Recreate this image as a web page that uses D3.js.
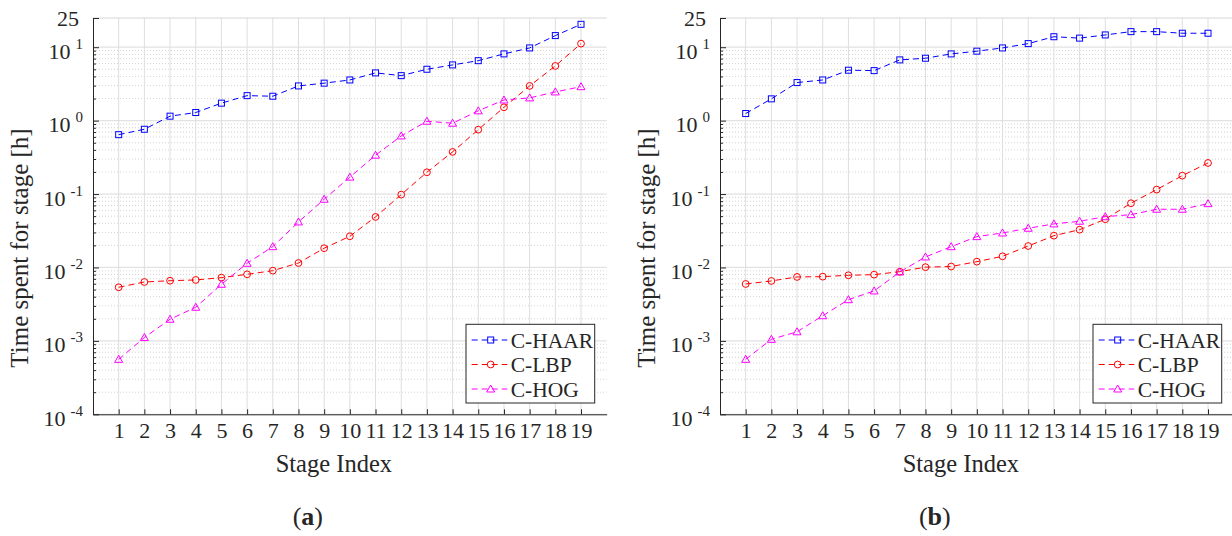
<!DOCTYPE html>
<html>
<head>
<meta charset="utf-8">
<title>Time spent for stage</title>
<script src="https://d3js.org/d3.v7.min.js"></script>
<style>
  body { margin: 0; background: #fff; }
  svg text { font-family: "Liberation Serif", Tinos, "Times New Roman", Times, serif !important; fill: #262626; }
</style>
</head>
<body>
<svg id="chart" width="1232" height="536" font-family="Liberation Serif"></svg>
<script>
// stage index on x, hours on a log y axis
const stages = [1, 2, 3, 4, 5, 6, 7, 8, 9, 10, 11, 12, 13, 14, 15, 16, 17, 18, 19];
const yTicks = [1e-4, 1e-3, 1e-2, 1e-1, 1, 10, 25];
const seriesNames = ["C-HAAR", "C-LBP", "C-HOG"];

// panel (a)
const haarA = [0.644, 0.763, 1.15, 1.29, 1.73, 2.19, 2.15, 2.97, 3.24, 3.58, 4.47, 4.10, 5.01, 5.74, 6.56, 8.11, 9.78, 14.4, 20.5];
const lbpA = [0.00537, 0.00634, 0.0066, 0.00676, 0.00727, 0.00807, 0.00904, 0.0115, 0.0183, 0.0266, 0.0488, 0.0982, 0.198, 0.375, 0.753, 1.52, 2.97, 5.56, 11.2];
const hogA = [0.000561, 0.00111, 0.00197, 0.00287, 0.0059, 0.0114, 0.0192, 0.0417, 0.085, 0.170, 0.338, 0.619, 0.981, 0.922, 1.36, 1.91, 2.04, 2.46, 2.90];

// panel (b)
const haarB = [1.25, 1.98, 3.30, 3.58, 4.86, 4.80, 6.72, 7.08, 8.11, 8.83, 9.78, 11.2, 13.9, 13.3, 14.7, 16.3, 16.3, 15.5, 15.5];
const lbpB = [0.00596, 0.00655, 0.00743, 0.0075, 0.00783, 0.00798, 0.00877, 0.0101, 0.0103, 0.012, 0.0142, 0.0196, 0.0271, 0.0327, 0.0454, 0.075, 0.115, 0.178, 0.265];
const hogB = [0.000561, 0.00105, 0.00133, 0.0022, 0.00364, 0.00479, 0.00869, 0.0139, 0.0192, 0.0263, 0.0295, 0.0342, 0.0392, 0.0426, 0.0492, 0.0524, 0.0621, 0.0621, 0.074];

const colors = ["#0000ff", "#ff0000", "#ff00ff"];
const markers = ["square", "circle", "triangle"];
const serif = "'Liberation Serif', Tinos, 'Times New Roman', Times, serif";

const svg = d3.select("#chart");

function marker(sel, type, color) {
    if (type == "square") {
        sel.append("rect").attr("x", -3).attr("y", -3).attr("width", 6).attr("height", 6);
    } else if (type == "circle") {
        sel.append("circle").attr("r", 3.4);
    } else {
        sel.append("path").attr("d", "M0,-4L4,3L-4,3Z");
    }
    sel.selectAll("rect,circle,path")
        .attr("fill", "none").attr("stroke", color).attr("stroke-width", 1);
}

function panel(left, right, allSeries, tag) {
    const top = 18, bottom = 414.3;
    const x = d3.scaleLinear().domain([0, 20]).range([left, right]);
    const y = d3.scaleLog().domain([1e-4, 25]).range([bottom, top]);
    const g = svg.append("g");

    // minor decade values for the dotted grid and small ticks
    const minor = y.ticks().filter(v => v <= 10 && Math.abs(Math.log10(v) % 1) > 1e-6);

    g.append("g").selectAll("line").data(minor).join("line")
        .attr("x1", left).attr("x2", right)
        .attr("y1", d => y(d)).attr("y2", d => y(d))
        .attr("stroke", "#c8c8c8").attr("stroke-width", 0.8)
        .attr("stroke-dasharray", "1,2");

    g.append("g").selectAll("line").data(yTicks.slice(0, 6)).join("line")
        .attr("x1", left).attr("x2", right)
        .attr("y1", d => y(d)).attr("y2", d => y(d))
        .attr("stroke", "#e2e2e2").attr("stroke-width", 1.3);

    g.append("g").selectAll("line").data(stages).join("line")
        .attr("x1", d => x(d)).attr("x2", d => x(d))
        .attr("y1", top).attr("y2", bottom)
        .attr("stroke", "#dedede").attr("stroke-width", 1);

    g.append("line").attr("x1", left).attr("x2", right)
        .attr("y1", top).attr("y2", top)
        .attr("stroke", "#d6d6d6").attr("stroke-width", 1);

    // x axis
    const xAxis = g.append("g").attr("transform", `translate(0,${bottom})`)
        .call(d3.axisBottom(x).tickValues(stages).tickSizeInner(-5).tickSizeOuter(0).tickPadding(9));
    xAxis.selectAll(".tick text").attr("font-size", 22).attr("dy", "0.68em").attr("fill", "#262626");

    // y axis, minor ticks first
    g.append("g").attr("transform", `translate(${left},0)`)
        .call(d3.axisLeft(y).tickValues(minor).tickSizeInner(-3).tickSizeOuter(0).tickFormat(""))
        .call(a => a.select(".domain").remove());
    const yAxis = g.append("g").attr("transform", `translate(${left},0)`)
        .call(d3.axisLeft(y).tickValues(yTicks).tickSizeInner(-6).tickSizeOuter(0).tickPadding(9));
    yAxis.selectAll(".tick text").each(function (d) {
        const t = d3.select(this).text("").attr("dy", null).attr("fill", "#262626");
        if (d == 25) {
            t.attr("y", 7.5).attr("font-size", 22).text("25").attr("x", -14);
        } else {
            t.attr("y", 11).attr("x", -10);
            t.append("tspan").attr("font-size", 22).text("10");
            t.append("tspan").attr("font-size", 15).attr("dx", 5).attr("dy", -10)
                .text(String(Math.round(Math.log10(d))));
        }
    });
    g.selectAll(".domain").attr("stroke", "#262626");
    g.selectAll(".tick line").attr("stroke", "#262626");

    // series
    allSeries.forEach((vals, k) => {
        g.append("path").datum(vals)
            .attr("fill", "none").attr("stroke", colors[k]).attr("stroke-width", 1)
            .attr("stroke-dasharray", "6,4")
            .attr("d", d3.line().x((d, i) => x(stages[i])).y(d => y(d)));
        g.append("g").selectAll("g").data(vals).join("g")
            .attr("transform", (d, i) => `translate(${x(stages[i])},${y(d)})`)
            .each(function () { marker(d3.select(this), markers[k], colors[k]); });
    });

    // legend
    const lx = right - 140.7, ly = 324.3;
    const leg = g.append("g").attr("transform", `translate(${lx},${ly})`);
    leg.append("rect").attr("width", 128.7).attr("height", 78.7)
        .attr("fill", "#fff").attr("stroke", "#262626").attr("stroke-width", 1);
    seriesNames.forEach((name, k) => {
        const row = leg.append("g").attr("transform", `translate(0,${15.7 + k * 24.5})`);
        row.append("line").attr("x1", 5.7).attr("x2", 41.3)
            .attr("stroke", colors[k]).attr("stroke-width", 1).attr("stroke-dasharray", "6,4");
        const m = row.append("g").attr("transform", "translate(24.7,0)");
        marker(m, markers[k], colors[k]);
        row.append("text").attr("x", 44.7).attr("y", 7.5).attr("font-size", 21.5).text(name);
    });

    // axis titles
    const cx = (left + right) / 2;
    g.append("text").attr("x", cx - 16).attr("y", 471.7)
        .attr("text-anchor", "middle").attr("font-size", 24.5).text("Stage Index");
    g.append("text").attr("transform", `translate(${left - 65},248) rotate(-90)`)
        .attr("text-anchor", "middle").attr("font-size", 25).text("Time spent for stage [h]");
    const cap = g.append("text").attr("x", cx - 42).attr("y", 525)
        .attr("text-anchor", "middle").attr("font-size", 26).attr("font-weight", "bold");
    cap.append("tspan").attr("font-weight", "normal").text("(");
    cap.append("tspan").text(tag);
    cap.append("tspan").attr("font-weight", "normal").text(")");

    g.selectAll("text").attr("font-family", serif).style("font-family", serif);
}

panel(93, 606.7, [haarA, lbpA, hogA], "a");
panel(720, 1233.7, [haarB, lbpB, hogB], "b");
</script>
</body>
</html>
